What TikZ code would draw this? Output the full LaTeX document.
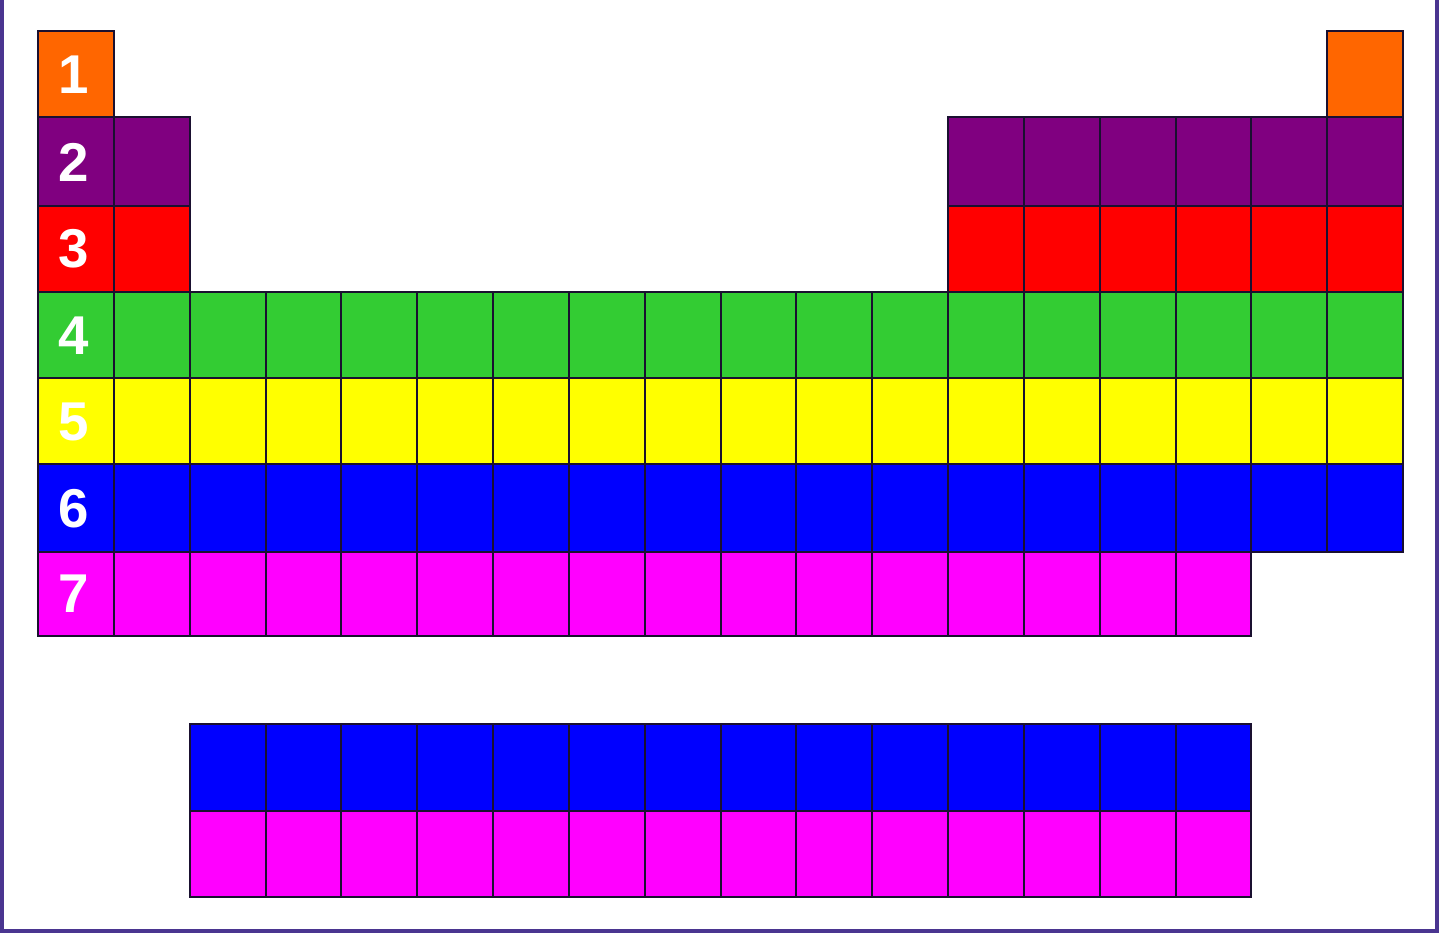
\documentclass[tikz,border=0pt]{standalone}
\usepackage{fontspec}
\setmainfont{Liberation Sans}
\definecolor{cOrange}{HTML}{FF6600}
\definecolor{cPurple}{HTML}{800080}
\definecolor{cRed}{HTML}{FF0000}
\definecolor{cGreen}{HTML}{33CC33}
\definecolor{cYellow}{HTML}{FFFF00}
\definecolor{cBlue}{HTML}{0000FF}
\definecolor{cMagenta}{HTML}{FF00FF}
\definecolor{cLine}{HTML}{1A1030}
\definecolor{cFrame}{HTML}{4A3590}
\tikzset{
  cellbox/.style={draw=cLine, line width=1.5pt, line join=miter},
  num/.style={text=white, font=\fontsize{41}{41}\selectfont\bfseries, inner sep=0pt},
  frameline/.style={draw=cFrame, line width=2.5pt}
}
\newcommand\cellrow[5]{%
  \foreach \c in {#3,...,#4}{%
    \path[cellbox, fill=#5] ({38+(\c-1)*75.833},#1) rectangle ({38+\c*75.833},#2);
  }%
}
\begin{document}
\begin{tikzpicture}[x=0.75pt,y=-0.75pt]
\useasboundingbox (0,0) rectangle (1440,933);
\fill[white] (0,0) rectangle (1440,933);
% frame
\draw[frameline] (2,0) -- (2,931) -- (1437,931) -- (1437,0);
% row 1
\cellrow{31}{117}{1}{1}{cOrange}
\cellrow{31}{117}{18}{18}{cOrange}
% row 2
\cellrow{117}{206}{1}{2}{cPurple}
\cellrow{117}{206}{13}{18}{cPurple}
% row 3
\cellrow{206}{292}{1}{2}{cRed}
\cellrow{206}{292}{13}{18}{cRed}
% rows 4-6
\cellrow{292}{378}{1}{18}{cGreen}
\cellrow{378}{464}{1}{18}{cYellow}
\cellrow{464}{552}{1}{18}{cBlue}
% row 7
\cellrow{552}{636}{1}{16}{cMagenta}
% lower block
\cellrow{724}{811}{3}{16}{cBlue}
\cellrow{811}{897}{3}{16}{cMagenta}
% period numbers
\node[num] (p1) at (73.5,75) {1};
\node[num] (p2) at (73.5,162.5) {2};
\node[num] (p3) at (73.5,249) {3};
\node[num] (p4) at (73.5,336) {4};
\node[num] (p5) at (73.5,422) {5};
\node[num] (p6) at (73.5,509) {6};
\node[num] (p7) at (73.5,594) {7};
\end{tikzpicture}
\end{document}
